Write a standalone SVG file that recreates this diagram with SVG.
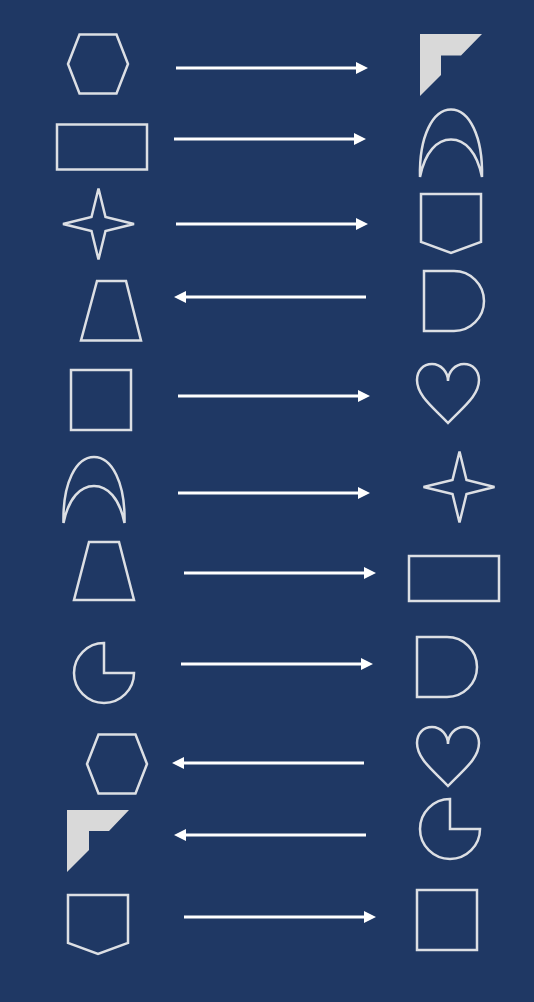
<svg xmlns="http://www.w3.org/2000/svg" width="534" height="1002" viewBox="0 0 534 1002">
<style>
.s{fill:none;stroke:#dcdfe4;stroke-width:2.5;stroke-linejoin:miter}
.f{fill:#d9d9d9;stroke:none}
.c{stroke:#ffffff;stroke-width:3;fill:none}
</style>
<defs>
<marker id="ah" markerUnits="userSpaceOnUse" markerWidth="13" markerHeight="12" refX="2" refY="6" orient="auto">
<path d="M0,0 L12,6 L0,12 Z" fill="#ffffff"/>
</marker>
</defs>
<rect width="534" height="1002" fill="#1f3864"/>
<g id="n1"><polygon class="s" points="68,64 79.5,34.5 116.5,34.5 128,64 116.5,93.5 79.5,93.5"/></g>
<g id="n2"><polygon class="f" points="420,34 482,34 461,55.5 441,55.5 441,75 420,96"/></g>
<g id="n3"><rect class="s" x="57" y="124.5" width="90" height="45"/></g>
<g id="n4"><path class="s" d="M420,177 C419,136 433,109.5 451,109.5 C469,109.5 483,136 482,177 C477,152 465,139.5 451,139.5 C437,139.5 425,152 420,177 Z"/></g>
<g id="n5"><path class="s" d="M98.5,188.5 L105.5,217 L134,224 L105.5,231 L98.5,259.5 L91.5,231 L63,224 L91.5,217 Z"/></g>
<g id="n6"><polygon class="s" points="421,194 481,194 481,242 451,253 421,242"/></g>
<g id="n7"><polygon class="s" points="97,281 126,281 141,340.5 81,340.5"/></g>
<g id="n8"><path class="s" d="M424,271 H454 A30,30 0 0 1 454,331 H424 Z"/></g>
<g id="n9"><rect class="s" x="71" y="370" width="60" height="60"/></g>
<g id="n10"><path class="s" d="M448,381 C448,372 441,364 432,364 C423,364 417,371 417,380 C417,396 434,408 448,423 C462,408 479,396 479,380 C479,371 473,364 464,364 C455,364 448,372 448,381 Z"/></g>
<g id="n11"><path class="s" d="M63.5,523 C62.5,483 76,457 94,457 C112,457 125.5,483 124.5,523 C119.5,498 107.5,486 94,486 C80.5,486 68.5,498 63.5,523 Z"/></g>
<g id="n12"><path class="s" d="M459.5,451.5 L466.5,480 L494.5,487 L466.5,494 L459.5,522.5 L452.5,494 L423.5,487 L452.5,480 Z"/></g>
<g id="n13"><polygon class="s" points="89,542 119,542 134,600 74,600"/></g>
<g id="n14"><rect class="s" x="409" y="556" width="90" height="45"/></g>
<g id="n15"><path class="s" d="M104,673 V643 A30,30 0 1 0 134,673 Z"/></g>
<g id="n16"><path class="s" d="M417,637 H447 A30,30 0 0 1 447,697 H417 Z"/></g>
<g id="n17"><polygon class="s" points="87,764 98.5,734.5 135.5,734.5 147,764 135.5,793.5 98.5,793.5"/></g>
<g id="n18"><path class="s" d="M448,744 C448,735 441,727 432,727 C423,727 417,734 417,743 C417,759 434,771 448,786 C462,771 479,759 479,743 C479,734 473,727 464,727 C455,727 448,735 448,744 Z"/></g>
<g id="n19"><polygon class="f" points="67,810 129,810 109,831 89,831 89,850 67,872"/></g>
<g id="n20"><path class="s" d="M450,829 V799 A30,30 0 1 0 480,829 Z"/></g>
<g id="n21"><polygon class="s" points="68,895 128,895 128,943 98,954 68,943"/></g>
<g id="n22"><rect class="s" x="417" y="890" width="60" height="60"/></g>
<g id="connectors">
<line class="c" x1="176" y1="68" x2="358" y2="68" marker-end="url(#ah)"/>
<line class="c" x1="174" y1="139" x2="356" y2="139" marker-end="url(#ah)"/>
<line class="c" x1="176" y1="224" x2="358" y2="224" marker-end="url(#ah)"/>
<line class="c" x1="366" y1="297" x2="184" y2="297" marker-end="url(#ah)"/>
<line class="c" x1="178" y1="396" x2="360" y2="396" marker-end="url(#ah)"/>
<line class="c" x1="178" y1="493" x2="360" y2="493" marker-end="url(#ah)"/>
<line class="c" x1="184" y1="573" x2="366" y2="573" marker-end="url(#ah)"/>
<line class="c" x1="181" y1="664" x2="363" y2="664" marker-end="url(#ah)"/>
<line class="c" x1="364" y1="763" x2="182" y2="763" marker-end="url(#ah)"/>
<line class="c" x1="366" y1="835" x2="184" y2="835" marker-end="url(#ah)"/>
<line class="c" x1="184" y1="917" x2="366" y2="917" marker-end="url(#ah)"/>
</g>
</svg>
